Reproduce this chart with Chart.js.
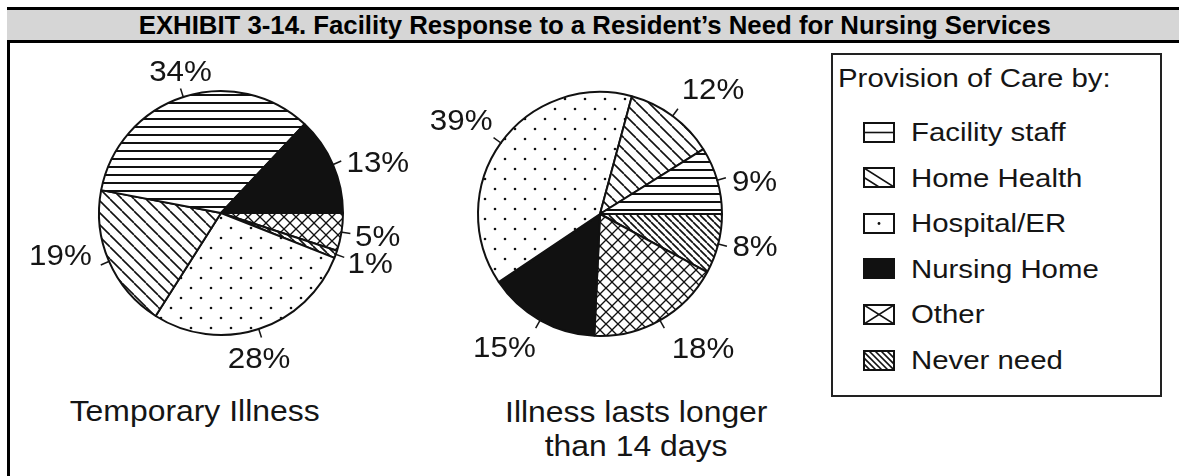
<!DOCTYPE html>
<html>
<head>
<meta charset="utf-8">
<script src="https://cdn.jsdelivr.net/npm/chart.js@4.4.1/dist/chart.umd.min.js"></script>
<style>
html,body{margin:0;padding:0;background:#fff;}
body{width:1179px;height:476px;position:relative;overflow:hidden;font-family:"Liberation Sans",Arial,Helvetica,sans-serif;color:#151515;}
.abs{position:absolute;}
#leftBorder{left:7px;top:7px;width:3px;height:469px;background:#000;}
#band{left:7px;top:7px;width:1172px;height:30px;border-top:3px solid #000;border-bottom:3px solid #000;background:#d6d6d6;}
#title{left:10px;top:10px;width:1169px;height:30px;line-height:31px;text-align:center;font-weight:bold;font-size:25px;color:#000;white-space:nowrap;}
.sx{display:inline-block;transform-origin:50% 50%;white-space:nowrap;}
#legendBox{left:831px;top:53px;width:327px;height:340px;border:2px solid #222;}
.legText{font-size:26px;line-height:30px;white-space:nowrap;}
.cap{font-size:29px;line-height:34px;text-align:center;width:400px;white-space:nowrap;}
canvas{position:absolute;}
</style>
</head>
<body>
<div id="leftBorder" class="abs"></div>
<div id="band" class="abs"></div>
<div id="title" class="abs"><span class="sx" style="transform:scaleX(1.03)">EXHIBIT 3-14. Facility Response to a Resident’s Need for Nursing Services</span></div>

<canvas id="pieTemp" width="390" height="340" style="left:26px;top:43px"></canvas>
<canvas id="pieLong" width="360" height="320" style="left:420px;top:54px"></canvas>

<div id="legendBox" class="abs"></div>
<div id="legendItems"></div>

<div class="abs cap" style="left:-5px;top:394px"><span class="sx" style="transform:scaleX(1.1)">Temporary Illness</span></div>
<div class="abs cap" style="left:436px;top:395px"><span class="sx" style="transform:scaleX(1.1)">Illness lasts longer</span></div>
<div class="abs cap" style="left:436px;top:429px"><span class="sx" style="transform:scaleX(1.1)">than 14 days</span></div>

<script>
// ---------------- DATA ----------------
const legendTitle = 'Provision of Care by:';
const categories = ['Facility staff', 'Home Health', 'Hospital/ER', 'Nursing Home', 'Other', 'Never need'];
const temporaryIllness = [34, 19, 28, 13, 5, 1];      // % in legend order
const longIllness = [9, 12, 39, 15, 18, 8];           // % in legend order
const chartCaptions = ['Temporary Illness', 'Illness lasts longer than 14 days'];
// slice drawing order (clockwise from 3 o'clock), as indices into categories
const temporaryOrder = [4, 5, 2, 1, 0, 3];
const longOrder = [5, 4, 3, 2, 1, 0];

// label placement tweaks, in drawing order (text placement only)
const temporaryLabelShift = [0, 0, 5, 7, 4, 3];     // degrees
const temporaryLabelPush = [0, 0, 2, 0, 0, 0];      // px
const longLabelShift = [-2, -5, 3, 2, 2, 3];
const longLabelPush = [0, 15, 11, 8, 14, 0];

// ---------------- PATTERNS ----------------
const INK = '#111';
function tile(w, h, draw) {
  const c = document.createElement('canvas');
  c.width = w; c.height = h;
  const g = c.getContext('2d');
  g.fillStyle = '#fff'; g.fillRect(0, 0, w, h);
  g.strokeStyle = INK; g.fillStyle = INK;
  draw(g, w, h);
  return g.createPattern(c, 'repeat');
}
function diagBack(g, s, lw) { // "\" lines
  g.lineWidth = lw;
  for (let k = -1; k <= 1; k++) {
    g.beginPath(); g.moveTo(k * s, 0); g.lineTo(k * s + s, s); g.stroke();
  }
}
function diagFwd(g, s, lw) { // "/" lines
  g.lineWidth = lw;
  for (let k = -1; k <= 1; k++) {
    g.beginPath(); g.moveTo(k * s, s); g.lineTo(k * s + s, 0); g.stroke();
  }
}
const fills = [
  tile(8, 8, (g) => { g.lineWidth = 2; g.beginPath(); g.moveTo(0, 4); g.lineTo(8, 4); g.stroke(); }),
  tile(12, 12, (g) => diagBack(g, 12, 1.6)),
  tile(20, 20, (g) => { [[5, 5], [15, 15]].forEach(([x, y]) => { g.beginPath(); g.arc(x, y, 1.3, 0, Math.PI * 2); g.fill(); }); }),
  INK,
  tile(12, 12, (g) => { diagBack(g, 12, 1.3); diagFwd(g, 12, 1.3); }),
  tile(7, 7, (g) => diagBack(g, 7, 1.7))
];

// ---------------- LABEL PLUGIN ----------------
const pieLabels = {
  id: 'pieLabels',
  afterDatasetsDraw(chart, args, opts) {
    const ctx = chart.ctx;
    const meta = chart.getDatasetMeta(0);
    const ds = chart.data.datasets[0];
    ctx.save();
    ctx.font = opts.size + 'px "Liberation Sans", Arial, sans-serif';
    ctx.fillStyle = '#151515';
    ctx.strokeStyle = '#151515';
    ctx.lineWidth = 1.5;
    meta.data.forEach((arc, i) => {
      const p = arc.getProps(['x', 'y', 'startAngle', 'endAngle', 'outerRadius'], true);
      const mid = (p.startAngle + p.endAngle) / 2;
      const c = Math.cos(mid), s = Math.sin(mid);
      const r0 = p.outerRadius - 1, r1 = p.outerRadius + opts.tick;
      ctx.beginPath();
      ctx.moveTo(p.x + c * r0, p.y + s * r0);
      ctx.lineTo(p.x + c * r1, p.y + s * r1);
      ctx.stroke();
      const ta = mid + ((opts.shift && opts.shift[i]) || 0) * Math.PI / 180;
      const tc = Math.cos(ta), ts = Math.sin(ta);
      const txt = ds.data[i] + '%';
      const w = ctx.measureText(txt).width * opts.scaleX;
      const h = opts.size * 0.72;
      const ar = r1 + opts.gap + ((opts.push && opts.push[i]) || 0);
      const cx = p.x + tc * ar + tc * w / 2;
      const cy = p.y + ts * ar + ts * h / 2;
      ctx.save();
      ctx.translate(cx, cy);
      ctx.scale(opts.scaleX, 1);
      ctx.textAlign = 'center';
      ctx.textBaseline = 'alphabetic';
      ctx.fillText(txt, 0, h / 2);
      ctx.restore();
    });
    ctx.restore();
  }
};

function makePie(id, values, order, shift, push) {
  const labels = order.map(i => categories[i]);
  const data = order.map(i => values[i]);
  const bg = order.map(i => fills[i]);
  return new Chart(document.getElementById(id), {
    type: 'pie',
    data: { labels, datasets: [{ data, backgroundColor: bg, borderColor: INK, borderWidth: 2, hoverOffset: 0 }] },
    options: {
      responsive: false, animation: false, events: [],
      rotation: 90, radius: 122,
      layout: { padding: 0 },
      plugins: {
        legend: { display: false }, tooltip: { enabled: false },
        pieLabels: { size: 29, scaleX: 1.08, tick: 9, gap: 5, shift, push }
      }
    },
    plugins: [pieLabels]
  });
}
makePie('pieTemp', temporaryIllness, temporaryOrder, temporaryLabelShift, temporaryLabelPush);
makePie('pieLong', longIllness, longOrder, longLabelShift, longLabelPush);

// ---------------- LEGEND (HTML) ----------------
const legendHost = document.getElementById('legendItems');
function addDiv(html, left, top, cls) {
  const d = document.createElement('div');
  d.className = 'abs ' + (cls || '');
  d.style.left = left + 'px'; d.style.top = top + 'px';
  d.innerHTML = html;
  legendHost.appendChild(d);
  return d;
}
addDiv('<span class="sx" style="transform:scaleX(1.13);transform-origin:0 50%">' + legendTitle + '</span>', 838, 63, 'legText');

const iconDraw = [
  (g, w, h) => { g.beginPath(); g.moveTo(0, h / 2); g.lineTo(w, h / 2); g.stroke(); },
  (g, w, h) => { g.beginPath(); g.moveTo(0, 0); g.lineTo(w, h); g.moveTo(0, h * 0.5); g.lineTo(w * 0.5, h); g.stroke(); },
  (g, w, h) => { g.beginPath(); g.arc(w / 2, h / 2, 1.4, 0, Math.PI * 2); g.fill(); },
  (g, w, h) => { g.fillRect(0, 0, w, h); },
  (g, w, h) => { g.beginPath(); g.moveTo(0, 0); g.lineTo(w, h); g.moveTo(0, h); g.lineTo(w, 0); g.stroke(); },
  (g, w, h) => { for (let x = -h; x < w; x += 6) { g.beginPath(); g.moveTo(x, 0); g.lineTo(x + h, h); g.stroke(); } }
];
categories.forEach((name, i) => {
  const cy = 132 + i * 45.6;
  const cv = document.createElement('canvas');
  cv.width = 32; cv.height = 21;
  cv.style.left = '863px'; cv.style.top = Math.round(cy - 10.5) + 'px';
  const g = cv.getContext('2d');
  g.strokeStyle = INK; g.fillStyle = INK; g.lineWidth = 1.6;
  g.save(); g.beginPath(); g.rect(1, 1, 30, 19); g.clip();
  g.translate(1, 1); iconDraw[i](g, 30, 19); g.restore();
  g.lineWidth = 2; g.strokeRect(1, 1, 30, 19);
  legendHost.appendChild(cv);
  addDiv('<span class="sx" style="transform:scaleX(1.13);transform-origin:0 50%">' + name + '</span>', 911, Math.round(cy - 15), 'legText');
});
</script>
</body>
</html>
